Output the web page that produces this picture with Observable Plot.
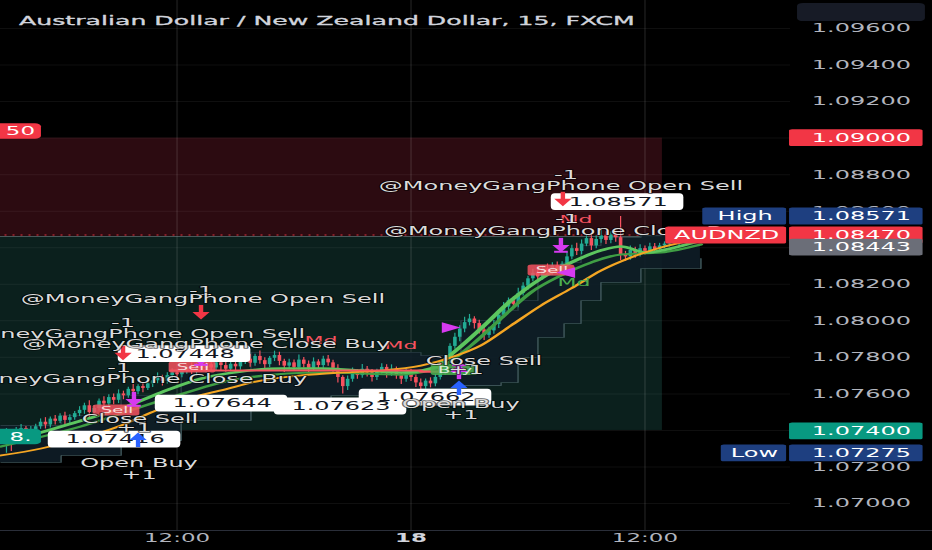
<!DOCTYPE html>
<html><head><meta charset="utf-8">
<script src="https://cdn.jsdelivr.net/npm/d3@7"></script>
<script src="https://cdn.jsdelivr.net/npm/@observablehq/plot@0.6"></script>
<style>
html,body{margin:0;padding:0;background:#000;overflow:hidden}
#chart svg{display:block}
</style></head><body><div id="chart"></div>
<script>
// ---------- data ----------
const title = "Australian Dollar / New Zealand Dollar, 15, FXCM";
const firstCandleHour = -21;      // hours relative to day 18 00:00
const candleStepHours = 0.25;     // 15-minute candles
const firstOpen = 380;            // points above 1.07000
const closes = [
372,390,365,398,410,388,405,420,
445,430,462,450,478,455,470,492,
510,535,498,520,560,545,580,565,
600,590,625,612,640,630,
655,672,690,668,700,715,705,
728,745,720,752,738,760,742,770,755,735,762,748,
775,790,768,805,782,760,795,810,778,752,770,745,785,762,740,775,755,790,770,
740,690,640,680,720,700,735,715,690,725,745,710,735,700,680,715,690,
660,640,670,655,690,720,
790,860,910,955,990,1010,985,
950,920,945,
980,1030,1075,1110,1090,1150,1190,1230,1260,
1240,1285,1265,1300,1275,1310,
1350,1395,1380,1420,1450,1410,1445,1465,
1440,1470,1455,1360,
1350,1385,1365,1395,1380,1405,1390,1410,
1420,1435,1425,1445,1455,1450,1462,1470];
const wickUp = [
15,20,10,18,22,12,16,14,
18,25,12,20,14,22,16,12,
20,14,28,16,12,24,15,20,
22,15,12,26,10,18,
14,20,25,12,16,22,10,
18,12,24,15,20,10,26,14,12,20,16,22,
14,18,26,12,30,16,10,24,18,12,20,15,28,14,18,22,12,16,20,
14,20,10,18,22,12,26,15,18,10,20,14,24,12,16,20,18,
14,22,12,18,16,25,
20,15,22,18,30,25,12,
18,14,20,
22,18,25,15,20,28,18,14,22,
20,15,26,18,22,14,
25,18,30,22,16,28,20,35,
22,18,20,116,
20,25,18,22,15,20,18,14,
12,18,15,20,14,16,12,10];
const wickDn = [
20,97,80,15,18,25,12,20,
14,22,16,20,12,25,18,14,
16,22,35,18,14,20,16,25,
18,22,14,20,16,24,
12,20,16,25,14,18,22,
16,20,14,22,18,25,15,20,28,16,14,20,
18,14,22,16,20,30,15,18,24,35,16,22,14,20,28,16,22,14,18,
24,30,40,22,16,20,14,22,25,16,18,24,14,20,28,16,22,
25,30,18,22,16,14,
18,22,16,25,20,18,30,
22,28,16,
18,22,16,20,30,18,14,22,16,
25,18,22,16,20,18,
20,16,22,18,14,25,16,20,
22,18,25,30,
25,18,22,16,20,14,18,16,
14,16,12,18,14,12,16,10];

const priceTicks = [1.070,1.072,1.074,1.076,1.078,1.080,1.082,1.084,1.086,1.088,1.090,1.092,1.094,1.096];
const timeTicks = [-12, 0, 12];
const timeTickLabels = ["12:00", "18", "12:00"];

// moving averages [hour, price]
const orangeMA = [[-21.03,1.07263],[-18.97,1.07301],[-16.92,1.07356],[-14.87,1.07427],[-13.33,1.07498],[-11.79,1.07564],[-9.74,1.07619],[-7.69,1.07673],[-5.64,1.07701],[-3.59,1.07717],[-1.54,1.07728],[0.51,1.07755],[2.05,1.07799],[3.59,1.07865],[5.13,1.07974],[6.67,1.08084],[8.21,1.08177],[9.74,1.08275],[11.28,1.08347],[12.82,1.08401],[14.87,1.08451]];
const fastMA = [[-21.03,1.07334],[-18.97,1.07389],[-16.92,1.07454],[-14.87,1.07520],[-12.82,1.07608],[-10.77,1.07684],[-8.72,1.07723],[-6.67,1.07739],[-4.62,1.07739],[-2.56,1.07728],[-0.51,1.07717],[1.03,1.07739],[2.31,1.07838],[3.59,1.07958],[5.13,1.08111],[6.67,1.08232],[8.21,1.08319],[9.74,1.08385],[10.77,1.08407],[12.05,1.08374],[13.33,1.08396],[14.87,1.08440]];
const midMA = [[-21.03,1.07312],[-16.92,1.07422],[-12.82,1.07564],[-8.72,1.07684],[-4.62,1.07717],[-0.51,1.07706],[1.54,1.07750],[3.08,1.07865],[4.62,1.08013],[6.15,1.08155],[7.69,1.08248],[9.23,1.08319],[10.77,1.08363],[12.82,1.08374],[14.87,1.08418]];

// channel band
const bandHours = [-21.03,-17.95,-14.87,-11.79,-8.21,-4.10,0.51,2.56,4.62,5.49,6.51,7.85,8.72,9.74,11.79,14.87];
const bandUpper = [1.07427,1.07482,1.07591,1.07728,1.07827,1.07827,1.07810,1.08002,1.08057,1.08111,1.08248,1.08319,1.08412,1.08456,1.08467,1.08483];
const bandLower = [1.07225,1.07263,1.07345,1.07454,1.07564,1.07591,1.07630,1.07646,1.07662,1.07799,1.07909,1.07985,1.08111,1.08210,1.08286,1.08341];

const trendLine = [[-12.3,1.07728],[-4.0,1.07728],[0.5,1.07722],[1.5,1.07765]];

// position tool
const zoneEndHour = 12.92;
const targetPrice = 1.09000;
const entryPrice = 1.08462;
const stopPrice = 1.07400;

// annotations [hour, price, text]
const notes = [
 [7.95,1.08795,"-1"],[7.69,1.08735,"@MoneyGangPhone Open Sell"],
 [8.0,1.08555,"-1"],[8.05,1.08489,"@MoneyGangPhone Close Buy"],
 [-10.77,1.08160,"-1"],[-10.67,1.08117,"@MoneyGangPhone Open Sell"],
 [-14.77,1.07985,"-1"],[-14.77,1.07925,"@MoneyGangPhone Open Sell"],
 [-10.51,1.07870,"@MoneyGangPhone Close Buy"],
 [-14.97,1.07739,"-1"],[-14.77,1.07679,"@MoneyGangPhone Close Buy"],
 [-13.90,1.07460,"Close Sell"],[-14.21,1.07411,"+1"],
 [-13.95,1.07219,"Open Buy"],[-13.95,1.07153,"+1"],
 [3.74,1.07777,"Close Sell"],[2.82,1.07728,"+1"],
 [2.56,1.07542,"Open Buy"],[2.56,1.07482,"+1"]
];
const callouts = [
 [10.62,1.08650,"1.08571"],[-11.59,1.07818,"1.07448"],[-9.69,1.07547,"1.07644"],
 [-3.59,1.07531,"1.07623"],[-15.18,1.07350,"1.07416"],[0.77,1.07580,"1.07662"]
];
const mdLabels = [[-4.62,1.07890,"Md","sell"],[-0.51,1.07865,"Md","sell"],[8.46,1.08555,"Md","sell"],[8.36,1.08210,"Md","buy"]];
const sellArrows = [[7.79,1.08670],[-10.77,1.08051],[-14.77,1.07827]];
const buyArrows = [[-14.0,1.07345],[2.46,1.07630]];
const closeArrowsDown = [[-10.77,1.07799],[7.69,1.08418],[-14.21,1.07575]];
const closeArrowsUp = [[2.46,1.07717]];
const flagsRight = [[1.9,1.07963]];
const flagsLeft = [[8.1,1.08264]];
const signalBoxes = [[-11.18,1.07744,"Sell"],[-15.08,1.07509,"Sell"],[7.23,1.08276,"Sell"],[2.26,1.07731,"Buy"]];

const priceTags = [
 [1.09000,"1.09000","target"],[1.08571,"1.08571","hilo"],[1.08467,"1.08470","last"],
 [1.08401,"1.08443","prev"],[1.07395,"1.07400","stop"],[1.07274,"1.07275","hilo"]
];
const sideTags = [[1.08571,"High","hilo"],[1.08467,"AUDNZD","last"],[1.07274,"Low","hilo"]];
const leftPills = [[1.09036,"50","target"],[1.07364,"8.","stop"]];

// ---------- layout / style ----------
const STRETCH = 2, W = 932, H = 550, innerW = W / STRETCH;
const xDomain = [-21.03, 19.49];
const yDomain = [1.068523, 1.097533];
const UP = "#22ab94", DN = "#f7525f";
const tagColor = {target:"#f23645", hilo:"#1e3f80", last:"#f23645", prev:"#6b6e78", stop:"#089981"};
const TAGH = 0.00046;

const candles = closes.map((c, i) => {
  const o = i === 0 ? firstOpen : closes[i - 1];
  return {
    t: firstCandleHour + i * candleStepHours,
    open: 1.07 + o / 1e5, close: 1.07 + c / 1e5,
    high: 1.07 + (Math.max(o, c) + wickUp[i]) / 1e5,
    low: 1.07 + (Math.min(o, c) - wickDn[i]) / 1e5,
    up: c >= o
  };
});
const ups = candles.filter(d => d.up), downs = candles.filter(d => !d.up);

function arrows(list, dir, color, bar) {
  // dir = 1 pointing down, -1 pointing up
  const m = [
    Plot.link(list, {x1: d => d[0], x2: d => d[0], y1: d => d[1] + dir * 0.00036, y2: d => d[1] - dir * 0.00008, stroke: color, strokeWidth: 2.2}),
    Plot.dot(list, {x: d => d[0], y: d => d[1] - dir * 0.00016, symbol: "triangle", r: 3.2, rotate: dir > 0 ? 180 : 0, fill: color, stroke: "none"})
  ];
  if (bar) m.push(Plot.link(list, {x1: d => d[0] - 0.35, x2: d => d[0] + 0.35, y1: d => d[1] - dir * 0.0004, y2: d => d[1] - dir * 0.0004, stroke: color, strokeWidth: 2}));
  return m;
}

const svg = Plot.plot({
  width: innerW, height: H,
  marginLeft: 0, marginRight: innerW - 395, marginTop: 0, marginBottom: 20,
  x: {domain: xDomain, axis: null},
  y: {domain: yDomain, axis: null},
  style: {background: "#000", color: "#d1d4dc", fontFamily: "DejaVu Sans", overflow: "visible"},
  marks: [
    // position zones
    Plot.rect([0], {x1: xDomain[0] - 1, x2: zoneEndHour, y1: entryPrice, y2: targetPrice, fill: "#2c0b11"}),
    Plot.rect([0], {x1: xDomain[0] - 1, x2: zoneEndHour, y1: stopPrice, y2: entryPrice, fill: "#0b201d"}),
    // grid
    Plot.ruleY(priceTicks, {stroke: "#ffffff", strokeOpacity: 0.06}),
    Plot.ruleX(timeTicks, {stroke: "#ffffff", strokeOpacity: 0.08}),
    Plot.ruleY([entryPrice], {x1: xDomain[0] - 1, x2: zoneEndHour, stroke: "#8a8f98", strokeOpacity: 0.5}),
    Plot.ruleY([entryPrice + 0.00008], {x1: xDomain[0] - 1, x2: zoneEndHour, stroke: "#f23645", strokeDasharray: "1 3", strokeOpacity: 0.9}),
    // channel band
    Plot.areaY(bandHours, {x: d => d, y1: (d, i) => bandLower[i], y2: (d, i) => bandUpper[i], curve: "step-after", fill: "#0e1d27", fillOpacity: 0.9}),
    Plot.line(bandHours, {x: d => d, y: (d, i) => bandLower[i], curve: "step-after", stroke: "#3b5256", strokeWidth: 0.8}),
    Plot.line(bandHours, {x: d => d, y: (d, i) => bandUpper[i], curve: "step-after", stroke: "#3b5256", strokeWidth: 0.8, strokeOpacity: 0.6}),
    // candles
    Plot.ruleX(ups, {x: "t", y1: "low", y2: "high", stroke: UP, strokeWidth: 0.6}),
    Plot.ruleX(downs, {x: "t", y1: "low", y2: "high", stroke: DN, strokeWidth: 0.6}),
    Plot.ruleX(ups, {x: "t", y1: "open", y2: "close", stroke: UP, strokeWidth: 1.8}),
    Plot.ruleX(downs, {x: "t", y1: "open", y2: "close", stroke: DN, strokeWidth: 1.8}),
    // indicators
    Plot.line(midMA, {x: d => d[0], y: d => d[1], curve: "monotone-x", stroke: "#3f9e44", strokeWidth: 2.2}),
    Plot.line(fastMA, {x: d => d[0], y: d => d[1], curve: "monotone-x", stroke: "#5cc65f", strokeWidth: 2.6}),
    Plot.line(orangeMA, {x: d => d[0], y: d => d[1], curve: "monotone-x", stroke: "#f5a623", strokeWidth: 1.8}),
    Plot.line(trendLine, {x: d => d[0], y: d => d[1], curve: "step-after", stroke: "#f7525f", strokeWidth: 2.2}),
    // signal boxes
    Plot.rect(signalBoxes, {x1: d => d[0] - 1.2, x2: d => d[0] + 1.2, y1: d => d[1] - 0.0003, y2: d => d[1] + 0.0003, fill: d => d[2] === "Sell" ? "#f7525f" : "#4caf50", fillOpacity: 0.85, rx: 2}),
    Plot.text(signalBoxes, {x: d => d[0], y: d => d[1], text: d => d[2], fill: "#ffffff", fillOpacity: 0.8, fontSize: 9}),
    Plot.text(mdLabels, {x: d => d[0], y: d => d[1], text: d => d[2], fill: d => d[3] === "sell" ? "#f7525f" : "#4caf50", fontSize: 11}),
    // markers
    ...arrows(closeArrowsDown, 1, "#d63af0", true),
    ...arrows(closeArrowsUp, -1, "#d63af0", true),
    Plot.dot(flagsRight, {x: d => d[0], y: d => d[1], symbol: "triangle", r: 4, rotate: 90, fill: "#d63af0"}),
    Plot.dot(flagsLeft, {x: d => d[0], y: d => d[1], symbol: "triangle", r: 4, rotate: -90, fill: "#d63af0"}),
    // callouts
    Plot.rect(callouts, {x1: d => d[0] - 3.4, x2: d => d[0] + 3.4, y1: d => d[1] - TAGH, y2: d => d[1] + TAGH, fill: "#ffffff", rx: 2, ry: 4}),
    Plot.text(callouts, {x: d => d[0], y: d => d[1], text: d => d[2], fill: "#131722", fontSize: 12}),
    ...arrows(sellArrows, 1, "#f23645", false),
    ...arrows(buyArrows, -1, "#2962ff", false),
    // annotation texts
    Plot.text(notes, {x: d => d[0], y: d => d[1], text: d => d[2], fill: "#dcdcdc", stroke: "#000", strokeWidth: 1.5, strokeOpacity: 0.6, fontSize: 12}),
    // left pills
    Plot.rect(leftPills, {x1: xDomain[0] - 1, x2: xDomain[0] + 2.1, y1: d => d[0] - 0.00042, y2: d => d[0] + 0.00042, fill: d => tagColor[d[2]], rx: 3}),
    Plot.text(leftPills, {x: xDomain[0] + 1.0, y: d => d[0], text: d => d[1], fill: "#fff", fontSize: 11.5}),
    // price axis labels
    Plot.text(priceTicks, {y: d => d, text: d => d.toFixed(5), frameAnchor: "right", textAnchor: "end", dx: 60, fill: "#b2b5be", fontSize: 12}),
    // price tags
    Plot.rect(priceTags, {x1: xDomain[1] - 0.05, x2: xDomain[1] + 6.8, y1: d => d[0] - TAGH, y2: d => d[0] + TAGH, fill: d => tagColor[d[2]], rx: 1.5}),
    Plot.text(priceTags, {y: d => d[0], text: d => d[1], frameAnchor: "right", textAnchor: "end", dx: 60, fill: "#ffffff", fontSize: 12}),
    Plot.rect(sideTags, {x1: d => xDomain[1] - 0.2 - (d[1].length * 0.95 + 0.5), x2: xDomain[1] - 0.2, y1: d => d[0] - TAGH, y2: d => d[0] + TAGH, fill: d => tagColor[d[2]], rx: 1.5}),
    Plot.text(sideTags, {x: d => xDomain[1] - 0.2 - (d[1].length * 0.95 + 0.5) / 2, y: d => d[0], text: d => d[1], fill: "#ffffff", fontSize: 12}),
    // time axis
    Plot.ruleY([yDomain[0]], {x1: xDomain[0] - 1, x2: xDomain[1] + 8, stroke: "#2a2e39"}),
    Plot.text(timeTicks.filter((d, i) => timeTickLabels[i] !== "18"), {x: d => d, text: d => timeTickLabels[timeTicks.indexOf(d)], frameAnchor: "bottom", dy: 11, fill: "#b2b5be", fontSize: 11.5}),
    Plot.text(timeTicks.filter((d, i) => timeTickLabels[i] === "18"), {x: d => d, text: d => timeTickLabels[timeTicks.indexOf(d)], frameAnchor: "bottom", dy: 11, fill: "#d1d4dc", fontSize: 11.5, fontWeight: "bold"}),
    // header
    Plot.rect([0], {x1: xDomain[1] + 0.36, x2: xDomain[1] + 6.92, y1: 1.09638, y2: 1.09737, fill: "#171b26", rx: 3}),
    Plot.text([title], {frameAnchor: "top-left", textAnchor: "start", dx: 9, dy: 16, fill: "#d1d4dc", stroke: "#d1d4dc", strokeWidth: 0.3, fontSize: 12.6})
  ]
});
svg.setAttribute("width", W);
svg.setAttribute("height", H);
svg.setAttribute("viewBox", `0 0 ${innerW} ${H}`);
svg.setAttribute("preserveAspectRatio", "none");
svg.style.width = W + "px";
svg.style.height = H + "px";
svg.style.maxWidth = "none";
document.getElementById("chart").appendChild(svg);
</script></body></html>
